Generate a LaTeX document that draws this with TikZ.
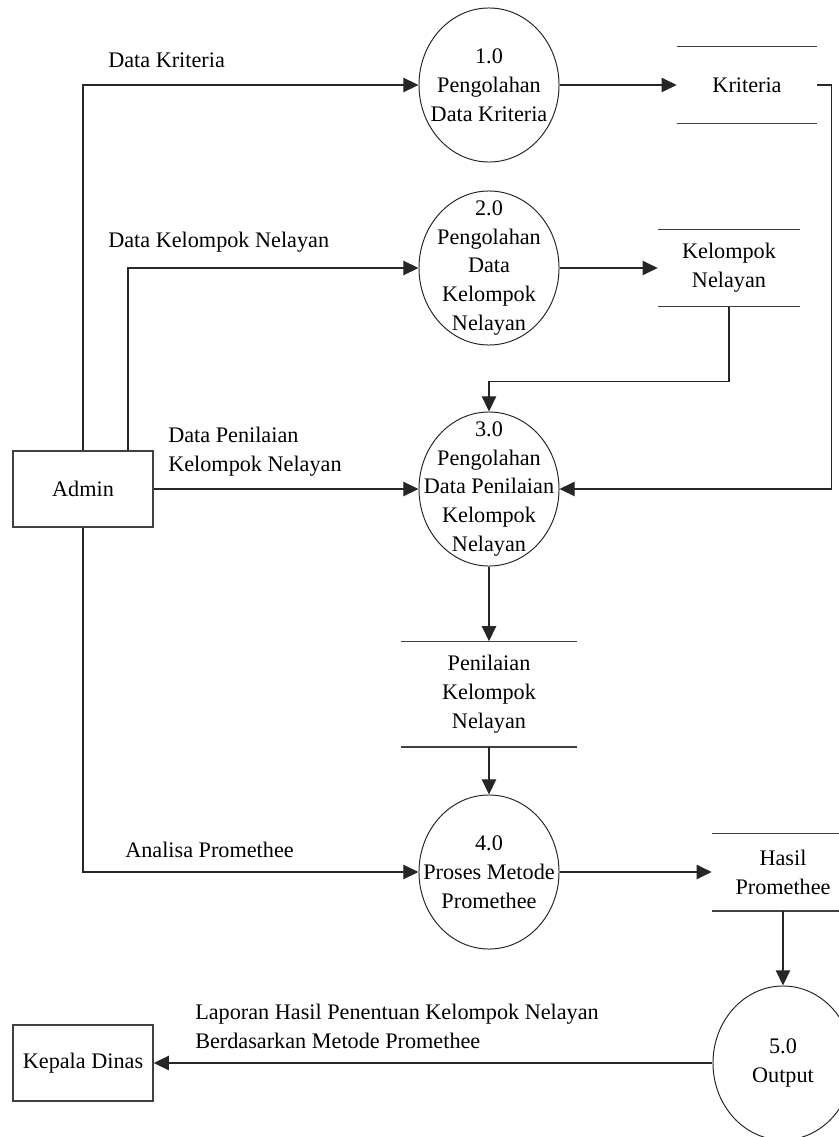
\documentclass[tikz,border=0pt]{standalone}
\usepackage{fontspec}
\setmainfont{Liberation Serif}
\usetikzlibrary{arrows.meta,shapes.geometric}

\begin{document}
\begin{tikzpicture}[
    x=0.025cm, y=-0.025cm,
    font=\fontsize{15.8}{20.6}\selectfont,
    proc/.style={ellipse, draw=black!85, line width=0.7pt, minimum width=3.5cm,
      minimum height=3.85cm, inner sep=0pt},
    entity/.style={draw=black!75, line width=1pt, minimum width=3.5cm,
      minimum height=1.9cm, inner sep=0pt},
    storeline/.style={-, draw=black!75, line width=1pt},
    store/.style={align=center, inner sep=0pt, minimum height=1.925cm,
      append after command={
        (\tikzlastnode.north west) edge[storeline] (\tikzlastnode.north east)
        (\tikzlastnode.south west) edge[storeline] (\tikzlastnode.south east)}},
    flowlabel/.style={anchor=west, align=left, inner sep=0pt},
    arrow/.style={-{Triangle[length=0.38cm, width=0.36cm]}, line width=0.95pt,
      draw=black!85}
  ]
  \useasboundingbox (0,0) rectangle (839,1137);
  \clip (0,0) rectangle (839,1137);

  % external entities
  \node[entity] (admin) at (83,489) {Admin};
  \node[entity] (kepala) at (83,1063) {Kepala Dinas};

  % processes
  \node[proc, label={[align=center]center:{1.0\\Pengolahan\\Data Kriteria}}]
    (p1) at (489,85) {};
  \node[proc, label={[align=center]center:{2.0\\Pengolahan\\Data\\Kelompok\\Nelayan}}]
    (p2) at (489,268) {};
  \node[proc, label={[align=center]center:{3.0\\Pengolahan\\Data Penilaian\\Kelompok\\Nelayan}}]
    (p3) at (489,489) {};
  \node[proc, label={[align=center]center:{4.0\\Proses Metode\\Promethee}}]
    (p4) at (489,872) {};
  \node[proc, label={[align=center]center:{5.0\\Output}}]
    (p5) at (783,1063) {};

  % data stores
  \node[store, minimum width=3.5cm] (kriteria) at (747,85) {Kriteria};
  \node[store, minimum width=3.55cm] (kelompok) at (729,268) {Kelompok\\Nelayan};
  \node[store, minimum width=4.4cm, minimum height=2.625cm] (penilaian) at (489,694)
    {Penilaian\\Kelompok\\Nelayan};
  \node[store, minimum width=3.55cm] (hasil) at (783,872) {Hasil\\Promethee};

  % flow labels
  \node[flowlabel] (lkriteria) at (108,60) {Data Kriteria};
  \node[flowlabel] (lkelompok) at (108,242) {Data Kelompok Nelayan};
  \node[flowlabel] (lpenilaian) at (168,452) {Data Penilaian\\Kelompok Nelayan};
  \node[flowlabel] (lanalisa) at (125,850) {Analisa Promethee};
  \node[flowlabel] (llaporan) at (195,1026)
    {Laporan Hasil Penentuan Kelompok Nelayan\\Berdasarkan Metode Promethee};

  % flows
  \draw[arrow] (admin.north) |- (p1.west);
  \draw[arrow] ([xshift=1.125cm]admin.north) |- (p2.west);
  \draw[arrow] (admin.east) -- (p3.west);
  \draw[arrow] (admin.south) |- (p4.west);
  \draw[arrow] (p1.east) -- (kriteria.west);
  \draw[arrow] (p2.east) -- (kelompok.west);
  \draw[arrow] (kriteria.east) -- ++(14,0) |- (p3.east);
  \draw[arrow] (kelompok.south) -- ++(0,75) -| (p3.north);
  \draw[arrow] (p3.south) -- (penilaian.north);
  \draw[arrow] (penilaian.south) -- (p4.north);
  \draw[arrow] (p4.east) -- (hasil.west);
  \draw[arrow] (hasil.south) -- (p5.north);
  \draw[arrow] (p5.west) -- (kepala.east);
\end{tikzpicture}
\end{document}
